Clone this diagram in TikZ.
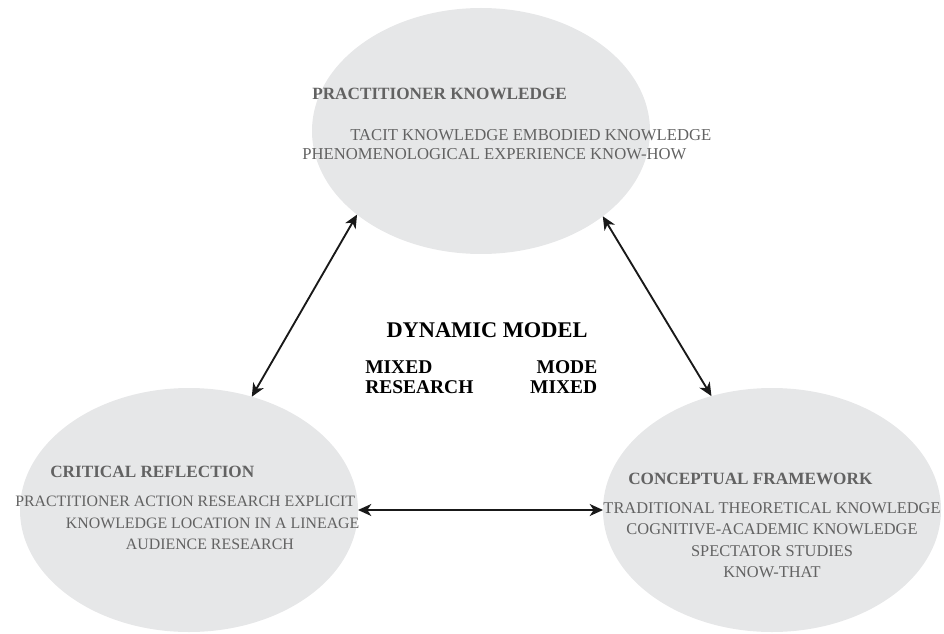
\documentclass[tikz,border=0pt]{standalone}
\usepackage{fontspec}
\setmainfont{Liberation Serif}
\usetikzlibrary{shapes.geometric,arrows.meta}
\definecolor{blobgray}{RGB}{230,231,232}
\definecolor{textgray}{RGB}{98,98,98}
\begin{document}
\begin{tikzpicture}[x=0.75pt, y=0.75pt,
    blob/.style={ellipse, fill=blobgray, inner sep=0pt, outer sep=0pt},
    head/.style={font=\fontsize{12.9pt}{15pt}\selectfont\bfseries, text=textgray, inner sep=0pt, anchor=base west},
    body/.style={font=\fontsize{12.3pt}{16.1pt}\selectfont, text=textgray, inner sep=0pt},
    link/.style={{Stealth[length=10pt,width=9pt,inset=3pt]}-{Stealth[length=10pt,width=9pt,inset=3pt]}, line width=1.4pt, black!90}]
    \useasboundingbox (0,0) rectangle (944,633);
    \node[blob, minimum width=253.5pt, minimum height=184.5pt] (prac) at (481,502) {};
    \node[blob, minimum width=253.5pt, minimum height=183pt] (crit) at (189,123) {};
    \node[blob, minimum width=253.5pt, minimum height=183pt] (conc) at (772,123) {};
    \node[head] (pracHead) at (312,533) {PRACTITIONER KNOWLEDGE};
    \node[body, font=\fontsize{12.5pt}{14.3pt}\selectfont, align=left, anchor=north west] (pracBody) at (302,503.7)
      {\hspace*{36pt}TACIT KNOWLEDGE EMBODIED KNOWLEDGE\\PHENOMENOLOGICAL EXPERIENCE KNOW-HOW};
    \node[head] (critHead) at (50,156) {CRITICAL REFLECTION};
    \node[body, font=\fontsize{11.9pt}{16.1pt}\selectfont, align=left, anchor=north west] (critBody) at (15,137)
      {PRACTITIONER ACTION RESEARCH EXPLICIT\\\hspace*{38pt}KNOWLEDGE LOCATION IN A LINEAGE\\\hspace*{83pt}AUDIENCE RESEARCH};
    \node[head] (concHead) at (628,149) {CONCEPTUAL FRAMEWORK};
    \node[body, align=center, anchor=north] (concBody) at (772,131)
      {TRADITIONAL THEORETICAL KNOWLEDGE\\COGNITIVE-ACADEMIC KNOWLEDGE\\SPECTATOR STUDIES\\KNOW-THAT};
    \node[font=\fontsize{16.8pt}{20pt}\selectfont\bfseries, inner sep=0pt, anchor=base] (model) at (487,296) {DYNAMIC MODEL};
    \node[font=\fontsize{14.6pt}{15pt}\selectfont\bfseries, inner sep=0pt, anchor=north west, text width=174pt, align=left] (mixed) at (365,273)
      {MIXED\hfill MODE\\RESEARCH\hfill MIXED};
    \draw[link] (crit.61) -- (prac.214);
    \draw[link] (conc.118) -- (prac.325);
    \draw[link] (crit.east) -- (conc.west);
\end{tikzpicture}
\end{document}
